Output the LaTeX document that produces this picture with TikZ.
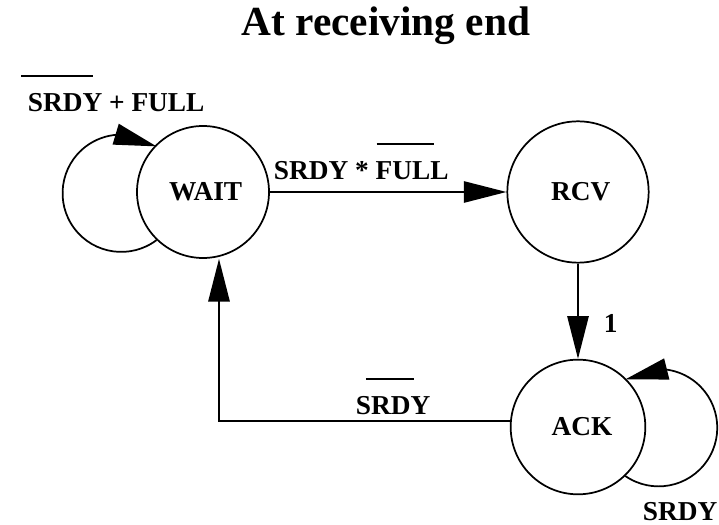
\documentclass[tikz,border=0pt]{standalone}
\usepackage{fontspec}
\setmainfont{Liberation Serif}
\usetikzlibrary{arrows.meta}
\usetikzlibrary{bending}
\newcommand{\statesize}{101pt}
\newcommand{\loopradius}{44pt}
% negated signal: a bar raised well above the word
\newcommand{\invsig}[3]{\setbox0\hbox{#3}\rlap{\kern#1\raisebox{26pt}{\rule{#2}{1.4pt}}}\box0\relax}

\begin{document}
\begin{tikzpicture}[x=0.75pt,y=0.75pt]
                \useasboundingbox (0,0) rectangle (719,525);
                \node[font=\bfseries\fontsize{31}{36}\selectfont,anchor=base] (title) at (386,489) {At receiving end};

                \begin{scope}[every node/.style={circle,draw,line width=1.3pt,inner sep=0pt,minimum size=\statesize,font=\bfseries\fontsize{20.5}{24}\selectfont}]
                    \node[minimum size=99pt] (WAIT) at (203,333) {\hspace{4pt}WAIT};
                    \node[minimum size=106pt] (RCV) at (578,333) {\hspace{4pt}RCV};
                    \node (ACK) at (578,98) {\hspace{6pt}ACK};
                \end{scope}

                \begin{scope}[>={Triangle[length=32pt,width=16pt,flex]}, line width=1.3pt,
                    every edge/.style={draw=black,line width=1.3pt},
                    every node/.style={font=\bfseries\fontsize{20.5}{24}\selectfont,anchor=base west,inner sep=0pt}]
                    \path [->] (WAIT) edge (RCV);
                    \path [->] (RCV.south -| ACK.north) edge (ACK);
                    \draw [->] (ACK.175) -| ([xshift=12pt]WAIT.south);
                    \draw [->] (WAIT.226) arc[start angle=-53,end angle=-307,radius=\loopradius];
                    \draw [->] (ACK.-46) arc[start angle=-124.5,end angle=124.5,radius=\loopradius];

                    \node (waitlbl) at (27,413) {\invsig{-5pt}{54pt}{SRDY} + FULL};
                    \node (rcvlbl) at (273,345) {SRDY * \invsig{0.75pt}{43pt}{FULL}};
                    \node (acklbl) at (603,192) {1};
                    \node (backlbl) at (355,110) {\invsig{7.5pt}{36pt}{SRDY}};
                    \node (holdlbl) at (642,4) {SRDY};
                \end{scope}
\end{tikzpicture}
\end{document}
